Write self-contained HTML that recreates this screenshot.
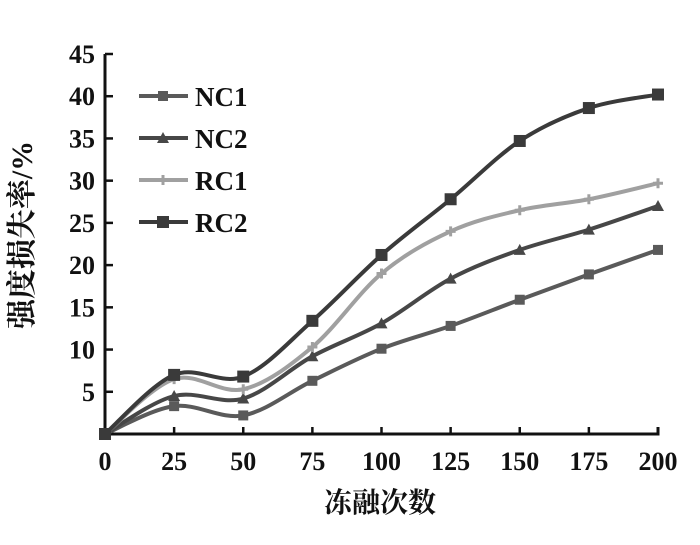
<!DOCTYPE html>
<html><head><meta charset="utf-8"><style>
body{margin:0;background:#fff}
svg text{font-family:"Liberation Serif","Noto Serif CJK SC",serif;font-weight:bold;fill:#111}
</style></head><body>
<svg id="chart" width="700" height="540" viewBox="0 0 700 540" xmlns="http://www.w3.org/2000/svg">
<g id="axes"></g>
<g id="series"></g>
<g id="legend"></g>
<text x="380" y="512" font-size="28" text-anchor="middle">冻融次数</text>
<text transform="translate(32,235) rotate(-90)" font-size="30" text-anchor="middle">强度损失率/%</text>
</svg>
<script>
const categories=[0,25,50,75,100,125,150,175,200];
const yTicks=[5,10,15,20,25,30,35,40,45];
const seriesNames=["NC1","NC2","RC1","RC2"];
const nc1=[0,3.3,2.2,6.3,10.1,12.8,15.9,18.9,21.8];
const nc2=[0,4.5,4.2,9.2,13.1,18.4,21.8,24.2,27.0];
const rc1=[0,6.5,5.3,10.3,19.0,24.0,26.5,27.8,29.7];
const rc2=[0,7.0,6.8,13.4,21.2,27.8,34.7,38.6,40.2];
const NS="http://www.w3.org/2000/svg";
const X0=105,X1=658,Y0=434,Y45=54;
const xs=v=>X0+(v/200)*(X1-X0);
const ys=v=>Y0-(v/45)*(Y0-Y45);
function mk(t,a,p){const e=document.createElementNS(NS,t);for(const k in a)e.setAttribute(k,a[k]);(p||document.getElementById('axes')).appendChild(e);return e;}
let e=mk('path',{d:`M${X0},${Y45} V${Y0} H${X1} V${Y0-7}`,fill:'none',stroke:'#111','stroke-width':3});


yTicks.forEach(t=>{
 const l=mk('line',{x1:X0,x2:X0+8,y1:ys(t),y2:ys(t),stroke:'#111','stroke-width':2.5});
 
 
 const tx=mk('text',{x:X0-10,y:ys(t)+9,'font-size':26,'text-anchor':'end'});tx.textContent=t;
 
 
});
categories.forEach((c,i)=>{
 if(i>0){const l=mk('line',{x1:xs(c),x2:xs(c),y1:Y0,y2:Y0-7,stroke:'#111','stroke-width':2.5});
 
 }
 const tx=mk('text',{x:xs(c),y:Y0+36,'font-size':26,'text-anchor':'middle'});tx.textContent=c;
 
 
});
function smooth(p){let d=`M${p[0][0]},${p[0][1]}`;for(let i=0;i<p.length-1;i++){const a=p[Math.max(i-1,0)],b=p[i],c=p[i+1],n=p[Math.min(i+2,p.length-1)];d+=` C${b[0]+(c[0]-a[0])/6},${b[1]+(c[1]-a[1])/6} ${c[0]-(n[0]-b[0])/6},${c[1]-(n[1]-b[1])/6} ${c[0]},${c[1]}`;}return d;}
const sg=document.getElementById('series'),lg=document.getElementById('legend');
const all=[nc1,nc2,rc1,rc2],cols=["#5a5a5a","#474747","#a0a0a0","#3a3a3a"],markers=["circle","tri","star","square"];
function marker(type,x,y,col,p){
 let m;
 if(type==="square")m=mk('rect',{x:x-6,y:y-6,width:12,height:12,fill:col},p);
 else if(type==="tri")m=mk('path',{d:`M${x},${y-6} L${x+6},${y+5} L${x-6},${y+5}Z`,fill:col},p);
 else if(type==="star")m=mk('path',{d:`M${x-5},${y} H${x+5} M${x},${y-5} V${y+5}`,stroke:col,'stroke-width':3},p);
 else m=mk('rect',{x:x-5,y:y-5,width:10,height:10,fill:col},p);
 return m;
}
all.forEach((s,k)=>{
 const pts=s.map((v,i)=>[xs(categories[i]),ys(v)]);
 const pa=mk('path',{d:smooth(pts),fill:'none',stroke:cols[k],'stroke-width':4},sg);
 
 
 pts.forEach(p=>{const m=marker(markers[k],p[0],p[1],cols[k],sg);
  
  });
 const ly=96+k*42;
 const ll=mk('line',{x1:139,x2:188,y1:ly,y2:ly,stroke:cols[k],'stroke-width':4},lg);
 
 
 marker(markers[k],163,ly,cols[k],lg);
 const t=mk('text',{x:195,y:ly+10,'font-size':27},lg);t.textContent=seriesNames[k];
 
 
});
</script>
</body></html>
